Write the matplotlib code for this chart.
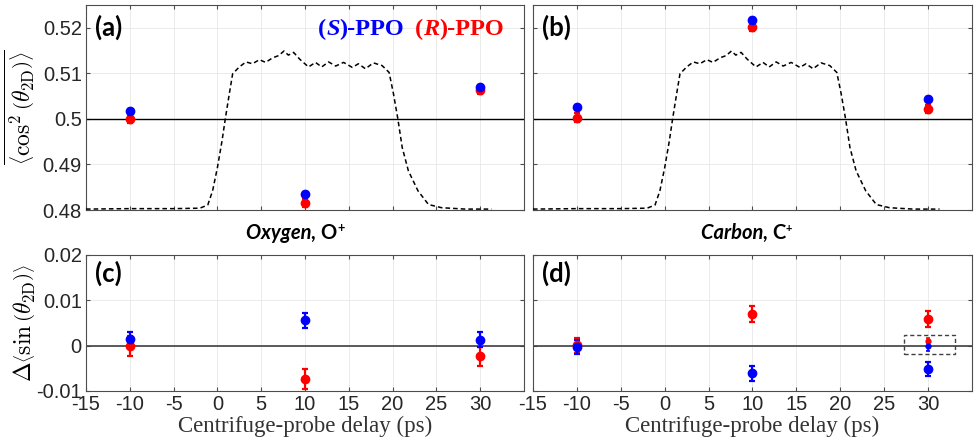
import numpy as np
import matplotlib.pyplot as plt

plt.rcParams['mathtext.fontset'] = 'cm'
plt.rcParams['font.family'] = ['Liberation Sans', 'DejaVu Sans']

# delays (ps)
delays = [-10, 10, 30]

# <cos^2> averaged, oxygen (a) and carbon (b)
cos2_O_S = [0.5018, 0.4836, 0.5071]
cos2_O_R = [0.5000, 0.4815, 0.5063]
cos2_C_S = [0.5027, 0.5217, 0.5043]
cos2_C_R = [0.5003, 0.5201, 0.5021]
cos2_err_S = [0.0004, 0.0004, 0.0004]
cos2_err_R = [0.0009, 0.0009, 0.0009]

# delta <sin>, oxygen (c) and carbon (d)
dsin_O_S = [0.0015, 0.0056, 0.0013]
dsin_O_R = [0.0000, -0.0073, -0.0023]
dsin_O_S_err = [0.0015, 0.0017, 0.0017]
dsin_O_R_err = [0.0022, 0.0022, 0.0021]
dsin_C_S = [-0.0003, -0.0061, -0.0051]
dsin_C_R = [0.0001, 0.0070, 0.0059]
dsin_C_S_err = [0.0016, 0.0016, 0.0015]
dsin_C_R_err = [0.0017, 0.0017, 0.0017]
# reference points inside the dashed box (d)
box_t = [30]
box_S = [0.0000]
box_R = [0.0011]
box_S_err = [0.0011]
box_R_err = [0.0005]

# centrifuge profile (dashed)
curve_t = [-15, -10, -5, -2, -1.1, -0.55, 0.0, 0.53, 0.9, 1.36, 1.74, 2.5, 3.26,
           4.0, 4.8, 5.5, 6.3, 7.0, 7.6, 8.1, 8.7, 9.4, 10.4, 11.2, 11.9, 12.7,
           13.5, 14.4, 15.4, 16.1, 16.9, 17.8, 18.8, 19.6, 20.1, 20.6, 21.1,
           21.8, 22.9, 24.1, 25.6, 28.3, 31.3]
curve_v = [0.4802, 0.4803, 0.4803, 0.4804, 0.4811, 0.4842, 0.4893, 0.4952, 0.5000,
           0.5055, 0.5099, 0.5114, 0.5125, 0.5121, 0.5130, 0.5124, 0.5134, 0.5139,
           0.5149, 0.5140, 0.5146, 0.5131, 0.5114, 0.5124, 0.5114, 0.5125, 0.5116,
           0.5124, 0.5113, 0.5121, 0.5110, 0.5123, 0.5117, 0.5102, 0.5055, 0.5000,
           0.4937, 0.4886, 0.4842, 0.4812, 0.4805, 0.4802, 0.4802]

W, H = 978, 442
fig = plt.figure(figsize=(9.78, 4.42), dpi=100)

def px_axes(x0, y0, x1, y1):
    return fig.add_axes([x0 / W, 1 - y1 / H, (x1 - x0) / W, (y1 - y0) / H])

ax_a = px_axes(86, 5, 524, 210)
ax_b = px_axes(533, 5, 972, 210)
ax_c = px_axes(86, 255, 524, 391)
ax_d = px_axes(533, 255, 972, 391)

blue = '#0000ff'
red = '#ff0000'
spine_col = '#4d4d4d'

def style(ax, ylim, yticks, ylabels, show_x, show_y):
    ax.set_xlim(-15, 35)
    ax.set_ylim(*ylim)
    ax.set_xticks(np.arange(-15, 31, 5))
    ax.set_yticks(yticks)
    ax.grid(True, color='#e8e8e8', lw=0.6)
    ax.set_axisbelow(True)
    ax.tick_params(direction='in', length=3, top=True, right=True, colors=spine_col,
                   labelsize=14.5, labelcolor='#262626', pad=3)
    for s in ax.spines.values():
        s.set_color(spine_col)
        s.set_linewidth(0.8)
    if show_x:
        ax.set_xticklabels([str(v) for v in range(-15, 31, 5)])
    else:
        ax.set_xticklabels([])
    if show_y:
        ax.set_yticklabels(ylabels)
    else:
        ax.set_yticklabels([])

top_ticks = [0.48, 0.49, 0.5, 0.51, 0.52]
top_labels = ['0.48', '0.49', '0.5', '0.51', '0.52']
bot_ticks = [-0.01, 0, 0.01, 0.02]
bot_labels = ['-0.01', '0', '0.01', '0.02']

style(ax_a, (0.48, 0.525), top_ticks, top_labels, False, True)
style(ax_b, (0.48, 0.525), top_ticks, top_labels, False, False)
style(ax_c, (-0.01, 0.02), bot_ticks, bot_labels, True, True)
style(ax_d, (-0.01, 0.02), bot_ticks, bot_labels, True, False)

ekw = dict(fmt='o', ms=6, elinewidth=1.6, capsize=2, capthick=1.6, zorder=4)

for ax, s_vals, r_vals in [(ax_a, cos2_O_S, cos2_O_R), (ax_b, cos2_C_S, cos2_C_R)]:
    ax.axhline(0.5, color='black', lw=1.0, zorder=2)
    ax.plot(curve_t, curve_v, color='black', ls=(0, (3, 2)), lw=1.1, zorder=3)
    ax.errorbar(delays, r_vals, yerr=cos2_err_R, color=red, **ekw)
    ax.errorbar(delays, s_vals, yerr=cos2_err_S, color=blue, **ekw)

ax_c.axhline(0, color='#404040', lw=1.2, zorder=2)
ax_c.errorbar(delays, dsin_O_R, yerr=dsin_O_R_err, color=red, **ekw)
ax_c.errorbar(delays, dsin_O_S, yerr=dsin_O_S_err, color=blue, **ekw)

ax_d.axhline(0, color='#404040', lw=1.2, zorder=2)
ax_d.errorbar(delays, dsin_C_R, yerr=dsin_C_R_err, color=red, **ekw)
ax_d.errorbar(delays, dsin_C_S, yerr=dsin_C_S_err, color=blue, **ekw)
skw = dict(fmt='o', ms=3.5, elinewidth=1.2, capsize=1.5, capthick=1.2, zorder=4)
ax_d.errorbar(box_t, box_R, yerr=box_R_err, color=red, **skw)
ax_d.errorbar(box_t, box_S, yerr=box_S_err, color=blue, **skw)
ax_d.add_patch(plt.Rectangle((27.3, -0.0018), 5.8, 0.0042, fill=False,
                             ls=(0, (3, 2)), lw=1.0, ec='#404040', zorder=5))

# panel labels
sans = ['Lato', 'DejaVu Sans']
for ax, lab in [(ax_a, '(a)'), (ax_b, '(b)'), (ax_c, '(c)'), (ax_d, '(d)')]:
    ax.text(0.02, 0.955, lab, transform=ax.transAxes, ha='left', va='top',
            fontsize=18.5, fontweight='bold', family=sans)

# axis labels
ax_a.set_ylabel(r'$\overline{\left\langle\cos^2\left(\theta_{\rm 2D}\right)\right\rangle}$',
                fontsize=17)
ax_a.yaxis.set_label_coords(-0.112, 0.5)
ax_c.set_ylabel(r'$\Delta\left\langle\sin\left(\theta_{\rm 2D}\right)\right\rangle$',
                fontsize=17)
ax_c.yaxis.set_label_coords(-0.11, 0.5)
for ax in (ax_c, ax_d):
    ax.set_xlabel('Centrifuge-probe delay (ps)', fontsize=16.5, color='#333333',
                  family=['Liberation Serif', 'DejaVu Serif'], labelpad=1)


def chain_text(x, y, pieces, size):
    # write pieces one after the other, each placed at the end of the previous one
    prev = None
    for txt, kw in pieces:
        kw = dict(kw)
        fs = kw.pop('size', size)
        rise = kw.pop('rise', 0)
        if prev is None:
            prev = fig.text(x, y, txt, fontsize=fs, va='baseline', ha='left', **kw)
        else:
            prev = fig.add_artist(plt.Annotation(txt, xy=(1, rise), xycoords=prev,
                                                 va='bottom', ha='left', fontsize=fs, **kw))
    return prev


# element titles
chain_text(246 / W, 1 - 239 / H,
           [('Oxygen, ', dict(family=sans, fontweight='bold', style='italic')),
            ('O', dict(family=sans, fontweight='bold')),
            ('+', dict(family=sans, fontweight='bold', size=9, rise=0.45))], 14.5)
chain_text(701 / W, 1 - 239 / H,
           [('Carbon, ', dict(family=sans, fontweight='bold', style='italic')),
            ('C', dict(family=sans, fontweight='bold')),
            ('+', dict(family=sans, fontweight='bold', size=8, rise=0.45))], 14.5)

# legend text
serif = ['Liberation Serif', 'DejaVu Serif']
chain_text(318 / W, 1 - 35 / H,
           [('(', dict(family=serif, fontweight='bold', color=blue)),
            ('S', dict(family=serif, fontweight='bold', style='italic', color=blue)),
            (')-PPO', dict(family=serif, fontweight='bold', color=blue))], 17.5)
chain_text(415 / W, 1 - 35 / H,
           [('(', dict(family=serif, fontweight='bold', color=red)),
            ('R', dict(family=serif, fontweight='bold', style='italic', color=red)),
            (')-PPO', dict(family=serif, fontweight='bold', color=red))], 17.5)

fig.savefig('out.png', dpi=100)
